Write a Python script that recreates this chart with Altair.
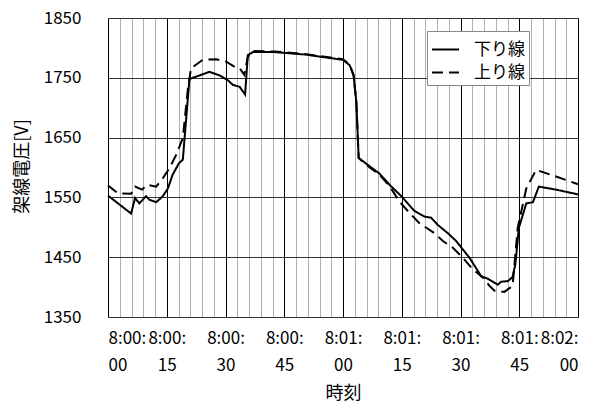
import altair as alt
import pandas as pd

# 下り線 (solid)
down_t = [0, 5.9, 6.9, 8.0, 9.7, 10.6, 12.3, 14.0, 15.3, 16.5, 18.1, 19.1, 20.8, 23.4, 25.9,
          28.5, 30.6, 31.9, 33.6, 35.0, 35.7, 37.0, 42.5, 50.2, 60.0, 61.7, 62.7, 63.4, 64.0,
          66.8, 69.3, 71.9, 74.9, 78.3, 80.8, 82.5, 84.2, 86.8, 88.9, 92.3, 95.3, 97.0, 99.5,
          100.4, 102.1, 103.3, 104.0, 104.9, 106.8, 108.5, 110.0, 114.4, 120.0]
down_v = [1553, 1523, 1549, 1540, 1552, 1546, 1542, 1552, 1565, 1588, 1607, 1613, 1748, 1754, 1760,
          1754, 1746, 1738, 1735, 1722, 1788, 1793, 1793, 1789, 1780, 1771, 1754, 1710, 1616,
          1602, 1590, 1571, 1552, 1527, 1518, 1516, 1504, 1490, 1477, 1449, 1418, 1414, 1404,
          1409, 1410, 1417, 1438, 1499, 1540, 1542, 1568, 1563, 1555]

# 上り線 (dashed)
up_t = [0, 2.5, 5.9, 6.9, 8.7, 10.0, 12.3, 14.0, 15.7, 17.4, 19.1, 20.4, 21.2, 24.2, 27.6,
        30.2, 32.7, 33.6, 34.8, 35.7, 37.0, 42.5, 50.2, 60.0, 61.7, 62.7, 63.4, 64.0, 66.8,
        69.3, 71.9, 74.4, 77.0, 79.5, 83.4, 85.5, 88.0, 90.6, 93.1, 95.7, 97.4, 98.7, 101.2,
        103.3, 104.6, 106.8, 109.3, 114.4, 120.0]
up_v = [1570, 1557, 1556, 1568, 1563, 1571, 1568, 1582, 1599, 1621, 1649, 1732, 1766, 1780, 1781,
        1777, 1767, 1766, 1755, 1785, 1795, 1794, 1790, 1781, 1772, 1755, 1710, 1616, 1600,
        1588, 1569, 1543, 1524, 1507, 1490, 1477, 1466, 1449, 1430, 1416, 1402, 1394, 1392,
        1402, 1499, 1565, 1596, 1585, 1572]

series_names = ["下り線", "上り線"]
x_tick_labels = ["8:00:|00", "8:00:|15", "8:00:|30", "8:00:|45", "8:01:|00",
                 "8:01:|15", "8:01:|30", "8:01:|45", "8:02:|00"]
y_ticks = [1350, 1450, 1550, 1650, 1750, 1850]

rows = []
for t, v in zip(down_t, down_v):
    rows.append({"t": t, "v": v, "s": series_names[0]})
for t, v in zip(up_t, up_v):
    rows.append({"t": t, "v": v, "s": series_names[1]})
df = pd.DataFrame(rows)

FONT = "Noto Sans CJK JP"
lbl_arr = "[" + ",".join("'" + s + "'" for s in x_tick_labels) + "]"
label_expr = f"datum.value % 15 == 0 ? split({lbl_arr}[datum.value / 15], '|') : ''"

chart = alt.Chart(df).mark_line(strokeWidth=2, color="black").encode(
    x=alt.X("t:Q", scale=alt.Scale(domain=[0, 120], nice=False, zero=False),
            axis=alt.Axis(values=list(range(0, 121, 3)), grid=True,
                          gridColor={"condition": {"test": "datum.value % 15 == 0", "value": "black"},
                                     "value": "#b0b0b0"},
                          gridWidth=1, ticks=False, domain=False,
                          labelExpr=label_expr, labelFontSize=17, labelPadding=13,
                          labelLineHeight=27, labelFont=FONT, labelColor="black",
                          labelBaseline="top",
                          title="時刻", titleFont=FONT, titleFontSize=18, titleFontWeight="normal",
                          titleX=235, titleY=76, titleBaseline="middle", titleAlign="center",
                          titleColor="black")),
    y=alt.Y("v:Q", scale=alt.Scale(domain=[1350, 1850], nice=False, zero=False),
            axis=alt.Axis(values=y_ticks, grid=True, gridColor="#333", gridWidth=1, format="d",
                          ticks=False, domain=False, labelFontSize=17, labelPadding=27,
                          labelFont=FONT, labelColor="black",
                          title="架線電圧[V]", titleFont=FONT, titleFontSize=18,
                          titleFontWeight="normal", titleX=-86, titleY=148, titleAngle=270,
                          titleBaseline="middle", titleAlign="center", titleColor="black",
                          titleLimit=300)),
    strokeDash=alt.StrokeDash("s:N", scale=alt.Scale(domain=series_names, range=[[1, 0], [11, 6]]),
                              legend=alt.Legend(title=None, orient="none", legendX=319, legendY=13,
                                                fillColor="white", strokeColor="#888",
                                                padding=4, symbolType="stroke", symbolSize=729,
                                                symbolStrokeColor="black", symbolStrokeWidth=2,
                                                labelFontSize=17, labelFont=FONT,
                                                labelColor="black", rowPadding=0,
                                                labelOffset=14)),
    order="t:Q",
).properties(
    width=470, height=299,
    autosize=alt.AutoSizeParams(type="none"),
    padding={"left": 100, "top": 10, "right": 15, "bottom": 86},
).configure_view(stroke="black", strokeWidth=1)

chart.save("out.html", embed_options={"renderer": "svg", "actions": False})
